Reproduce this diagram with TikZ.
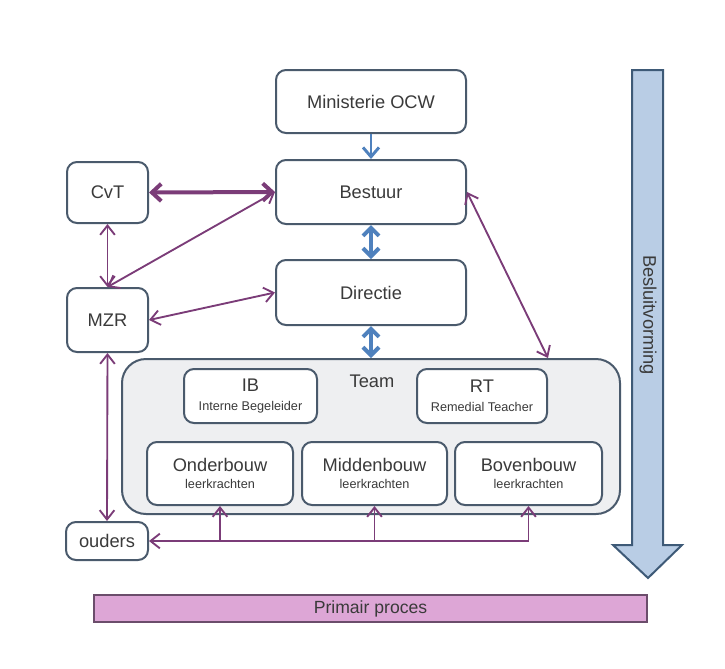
\documentclass[tikz,border=0pt]{standalone}
\usepackage{fontspec}
\setmainfont{Liberation Sans}
\usetikzlibrary{arrows.meta,calc}
\definecolor{boxline}{HTML}{4A5A6C}
\definecolor{txt}{HTML}{3A3A3A}
\definecolor{teamfill}{HTML}{EEEFF1}
\definecolor{purp}{HTML}{7B3C78}
\definecolor{bluearr}{HTML}{4F81BD}
\definecolor{bigfill}{HTML}{B9CDE5}
\definecolor{bigline}{HTML}{3E5A77}
\definecolor{pfill}{HTML}{DDA6D6}
\definecolor{pline}{HTML}{6B4D6B}
\begin{document}
\begin{tikzpicture}[x=0.75pt,y=-0.75pt,
  box/.style={draw=boxline, line width=1.5pt, rounded corners=7.5pt, fill=white,
    inner sep=0pt, text=txt, font=\fontsize{13.7}{15}\selectfont, align=center},
  sz/.style 2 args={minimum width=#1*0.75pt, minimum height=#2*0.75pt},
  parrow/.style={draw=purp, line width=1.4pt, arrows={-Straight Barb[length=7pt,width=11pt]}},
  pboth/.style={draw=purp, line width=1.4pt, arrows={Straight Barb[length=7pt,width=11pt]-Straight Barb[length=7pt,width=11pt]}},
  pthick/.style={draw=purp, line width=3pt, arrows={Straight Barb[length=7pt,width=13pt]-Straight Barb[length=7pt,width=13pt]}},
  barrow/.style={draw=bluearr, line width=2.2pt, arrows={-Straight Barb[length=7pt,width=12pt]}},
  bboth/.style={draw=bluearr, line width=3pt, arrows={Straight Barb[length=6pt,width=12pt]-Straight Barb[length=6pt,width=12pt]}}
]
\useasboundingbox (0,0) rectangle (725,668);

% big arrow Besluitvorming
\draw[fill=bigfill, draw=bigline, line width=1.5pt, line join=miter]
  (632,70) -- (663,70) -- (663,545) -- (682,545) -- (648,578) -- (613,545) -- (632,545) -- cycle;
\node[rotate=-90, text=txt, font=\fontsize{13.7}{15}\selectfont] (besl) at (648,315) {Besluitvorming};

% top boxes
\node[box, sz={190}{63}] (min) at (371,101.5) {Ministerie OCW};
\node[box, sz={190}{64}] (bestuur) at (371,192) {Bestuur};
\node[box, sz={190}{65}] (directie) at (371,292.5) {Directie};
\node[box, sz={81}{61}] (cvt) at (107.5,192.5) {CvT};
\node[box, sz={81}{64}] (mzr) at (107.5,320) {MZR};
\node[box, sz={82}{38}] (ouders) at (107,541) {ouders};

% team
\node[box, fill=teamfill, rounded corners=18pt, sz={498}{155}] (team) at (371,436.5) {};
\node[text=txt, font=\fontsize{13.7}{15}\selectfont] (teamlbl) at (372,381) {Team};
\node[box, sz={133}{54}] (ib) at (250.5,396) {IB\\[-1pt]{\fontsize{9.5}{11}\selectfont Interne Begeleider}};
\node[box, sz={130}{54}] (rt) at (482,396) {RT\\[-1pt]{\fontsize{9.5}{11}\selectfont Remedial Teacher}};
\node[box, sz={146}{63}] (onder) at (220,473.5) {Onderbouw\\[-2pt]{\fontsize{9.5}{11}\selectfont leerkrachten}};
\node[box, sz={145}{63}] (midden) at (374.5,473.5) {Middenbouw\\[-2pt]{\fontsize{9.5}{11}\selectfont leerkrachten}};
\node[box, sz={147}{63}] (boven) at (528.5,473.5) {Bovenbouw\\[-2pt]{\fontsize{9.5}{11}\selectfont leerkrachten}};

% primair proces
\node[draw=pline, fill=pfill, line width=1.5pt, inner sep=0pt, sz={553}{27}, text=txt, font=\fontsize{13.2}{15}\selectfont] (primair) at (370.5,608.5) {Primair proces};

% blue connectors
\draw[barrow] (min.south) -- (bestuur.north);
\draw[bboth] (bestuur.south) -- (directie.north);
\draw[bboth] (directie.south) -- (team.north);

% purple connectors
\draw[pthick] (cvt.east) -- (bestuur.west);
\draw[pboth] (cvt.south) -- (mzr.north);
\draw[pboth] (bestuur.west) -- (mzr.north);
\draw[pboth] (mzr.east) -- (directie.west);
\draw[pboth] (bestuur.east) -- (rt.east |- team.north);
\draw[pboth] (mzr.south) -- (ouders.north);
\draw[parrow] (boven.south |- ouders.east) -- (ouders.east);
\draw[parrow] (onder.south |- ouders.east) -- (onder.south);
\draw[parrow] (midden.south |- ouders.east) -- (midden.south);
\draw[parrow] (boven.south |- ouders.east) -- (boven.south);
\end{tikzpicture}
\end{document}
